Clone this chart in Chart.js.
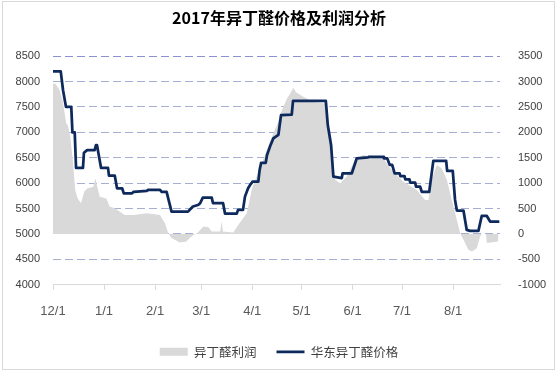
<!DOCTYPE html>
<html>
<head>
<meta charset="utf-8">
<script src="https://cdn.jsdelivr.net/npm/chart.js@4.4.1/dist/chart.umd.min.js"></script>
<style>
  html, body { margin: 0; padding: 0; background: #ffffff; }
  #wrap { width: 558px; height: 373px; }
</style>
</head>
<body>
<div id="wrap"><canvas id="c" width="558" height="373"></canvas></div>
<script>
// ---- data (x = days since 2016-12-01) ----
const chartTitle = '2017年异丁醛价格及利润分析';
const seriesNames = ['异丁醛利润', '华东异丁醛价格'];
const monthTickDays = [0, 31, 62, 90, 121, 151, 182, 212, 243];
const monthTickLabels = ['12/1', '1/1', '2/1', '3/1', '4/1', '5/1', '6/1', '7/1', '8/1'];
const leftTicks = [4000, 4500, 5000, 5500, 6000, 6500, 7000, 7500, 8000, 8500];
const rightTicks = [-1000, -500, 0, 500, 1000, 1500, 2000, 2500, 3000, 3500];

const priceDays = [0, 4.7, 6.1, 7.9, 11.1, 11.8, 13.2, 14, 18.2, 18.8, 20.7, 25.3, 26.1, 26.7, 29.2, 33.4, 34, 37.5, 38.9, 42, 43, 48, 49, 57, 58, 65, 66, 69, 72, 82, 83.2, 85, 88, 89.3, 91, 96.4, 97.2, 103.3, 104.5, 111.6, 112.4, 115.4, 116.6, 118.5, 119.7, 121.2, 124.7, 125.5, 126.4, 129.2, 130, 131.8, 133.8, 136.9, 138.5, 145, 145.8, 165.7, 166.9, 168.9, 170.3, 175.4, 175.9, 181.5, 184.5, 191.4, 192, 200.5, 201, 203, 204.5, 206, 207.5, 210.5, 211, 213.5, 214, 216.5, 217, 220, 220.5, 223, 224, 228.5, 231, 238.8, 239.4, 242.8, 244.2, 245.3, 249.3, 251.3, 253.3, 258.4, 260.4, 263.5, 265.5, 271.1];
const priceValues = [8200, 8200, 7830, 7500, 7500, 7000, 7000, 6300, 6300, 6600, 6650, 6650, 6750, 6750, 6300, 6300, 6150, 6150, 5900, 5900, 5800, 5800, 5830, 5850, 5870, 5870, 5830, 5830, 5440, 5440, 5480, 5540, 5570, 5600, 5715, 5715, 5605, 5605, 5400, 5400, 5475, 5475, 5735, 5900, 5965, 6030, 6030, 6260, 6400, 6400, 6555, 6720, 6880, 6950, 7340, 7350, 7620, 7620, 7145, 6750, 6130, 6100, 6195, 6195, 6490, 6510, 6520, 6520, 6490, 6490, 6360, 6360, 6195, 6195, 6140, 6140, 6075, 6075, 6010, 6010, 5930, 5930, 5830, 5830, 6440, 6440, 6240, 6240, 5670, 5460, 5460, 5080, 5060, 5060, 5355, 5355, 5245, 5245];

const profitDays = [0, 1.5, 4, 6, 8, 9, 10.5, 12, 13.5, 15, 17, 19, 21, 24.5, 25.7, 26.9, 28.4, 32.4, 34.4, 37.5, 40.5, 43.5, 49, 57, 65, 68, 70, 72, 77, 81, 84, 88, 91.3, 94.4, 96.4, 101.5, 102.5, 103.2, 109.5, 112.6, 117.7, 120.9, 127, 131.8, 136.7, 139.1, 142.2, 144, 146, 147.6, 152, 158.1, 165.2, 167.3, 169.3, 171.3, 174.4, 178.4, 183.5, 188.5, 192.6, 200.7, 204.7, 212.8, 221, 226, 228, 230, 233.1, 236.1, 239.2, 242.2, 245.3, 247.3, 249.3, 252.3, 254.4, 257.4, 259.4, 260.5, 263, 263.5, 270.5];
const profitValues = [2960, 2960, 2830, 2600, 2180, 2140, 1910, 1455, 865, 700, 605, 835, 900, 930, 1095, 930, 735, 700, 540, 505, 440, 375, 375, 410, 375, 210, 15, -80, -170, -150, -50, 30, 145, 130, 50, 50, 245, 50, 30, 180, 410, 900, 1400, 1820, 2200, 2440, 2670, 2760, 2880, 2790, 2700, 2600, 2570, 2180, 1325, 1065, 1000, 1130, 1455, 1555, 1520, 1490, 1295, 1030, 865, 670, 670, 1065, 1360, 1295, 1065, 670, 280, 15, -115, -310, -345, -280, -50, 0, 0, -180, -150];

// ---- build ----
const pricePts = priceDays.map((d, i) => ({ x: d, y: priceValues[i] }));
const profitPts = profitDays.map((d, i) => ({ x: d, y: profitValues[i] }));

const frame = {
  id: 'frame',
  beforeDraw(chart) {
    const ctx = chart.ctx;
    ctx.save();
    ctx.fillStyle = '#ffffff';
    ctx.fillRect(0, 0, chart.width, chart.height);
    ctx.strokeStyle = '#D9D9D9';
    ctx.lineWidth = 1;
    ctx.strokeRect(2.5, 1.5, 552, 368);
    ctx.restore();
  }
};

new Chart(document.getElementById('c'), {
  type: 'line',
  data: {
    datasets: [
      {
        label: seriesNames[0],
        data: profitPts,
        yAxisID: 'y2',
        borderWidth: 0,
        borderColor: 'rgba(0,0,0,0)',
        backgroundColor: '#D9D9D9',
        fill: 'origin',
        pointRadius: 0,
        pointStyle: 'rect',
        tension: 0,
        order: 2
      },
      {
        label: seriesNames[1],
        data: pricePts,
        yAxisID: 'y',
        borderWidth: 2.75,
        borderColor: '#0E2A5C',
        backgroundColor: '#0E2A5C',
        fill: false,
        pointRadius: 0,
        pointStyle: 'line',
        tension: 0,
        borderJoinStyle: 'round',
        order: 1
      }
    ]
  },
  options: {
    responsive: false,
    animation: false,
    devicePixelRatio: 1,
    layout: { padding: { left: 0, right: 0, top: 0, bottom: 5 } },
    plugins: {
      title: {
        display: true,
        text: chartTitle,
        color: '#000000',
        font: { family: '"Noto Sans CJK SC", sans-serif', size: 16, weight: 'bold' },
        padding: { top: 8, bottom: 29 }
      },
      legend: {
        display: true,
        position: 'bottom',
        labels: {
          usePointStyle: true,
          pointStyleWidth: 28,
          boxHeight: 8,
          padding: 20,
          color: '#404040',
          font: { family: '"Noto Sans CJK SC", sans-serif', size: 12.5 },
          sort: (a, b) => a.datasetIndex - b.datasetIndex
        }
      },
      tooltip: { enabled: false }
    },
    scales: {
      x: {
        type: 'linear',
        min: 0,
        max: 271.5,
        afterBuildTicks(scale) { scale.ticks = monthTickDays.map(v => ({ value: v })); },
        afterFit(scale) { scale.height = 40.75; },
        ticks: {
          autoSkip: false,
          maxRotation: 0,
          padding: 14,
          color: '#595959',
          font: { family: '"Liberation Sans", sans-serif', size: 13 },
          callback(value) {
            const i = monthTickDays.indexOf(value);
            return i >= 0 ? monthTickLabels[i] : '';
          }
        },
        grid: { drawOnChartArea: false, drawTicks: true, tickLength: 5, color: '#D9D9D9' },
        border: { display: true, color: '#D9D9D9', width: 1 }
      },
      y: {
        position: 'left',
        min: 4000,
        max: 8500,
        afterBuildTicks(scale) { scale.ticks = leftTicks.map(v => ({ value: v })); },
        afterFit(scale) { scale.width = 53; },
        ticks: {
          padding: 13,
          color: '#404040',
          font: { family: '"Liberation Sans", sans-serif', size: 11 },
          callback: (value) => String(value)
        },
        grid: {
          drawTicks: false,
          lineWidth: 1,
          color(ctx) {
            const v = ctx.tick && ctx.tick.value;
            if (v === 4000) return 'rgba(0,0,0,0)';
            if (v === 8500) return '#8A92D2';
            return '#A8AED0';
          }
        },
        border: { display: false, dash: [8, 4] }
      },
      y2: {
        position: 'right',
        min: -1000,
        max: 3500,
        afterBuildTicks(scale) { scale.ticks = rightTicks.map(v => ({ value: v })); },
        afterFit(scale) { scale.width = 58; },
        ticks: {
          padding: 10,
          color: '#404040',
          font: { family: '"Liberation Sans", sans-serif', size: 11 },
          callback: (value) => String(value)
        },
        grid: { display: false, drawOnChartArea: false },
        border: { display: false }
      }
    }
  },
  plugins: [frame]
});
</script>
</body>
</html>
